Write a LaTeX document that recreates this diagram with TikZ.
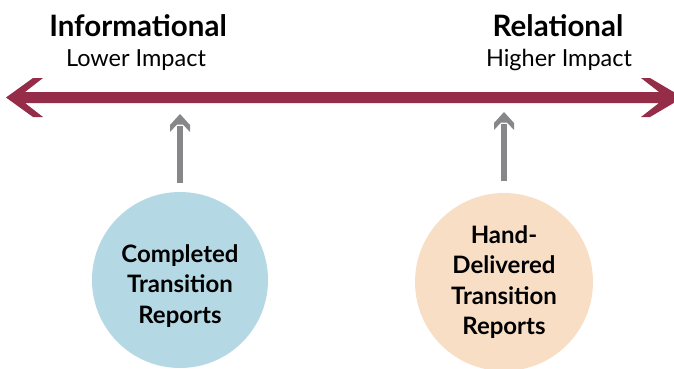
\documentclass[tikz,border=0pt]{standalone}
\usepackage{fontspec}
\setmainfont{Lato}
\definecolor{crimson}{HTML}{952C48}
\definecolor{arrowgray}{HTML}{87878A}
\definecolor{paleblue}{HTML}{B5D9E4}
\definecolor{peach}{HTML}{F9DEC6}
\begin{document}
\begin{tikzpicture}[x=1pt,y=-1pt,
  heading/.style={anchor=base,font=\bfseries\fontsize{29.5}{32}\selectfont},
  subheading/.style={anchor=base,font=\fontsize{23.5}{26}\selectfont},
  bubble/.style={circle,inner sep=0pt,align=center,
    font=\bfseries\fontsize{24}{30.5}\selectfont},
  pointer/.style={draw=arrowgray,line width=6pt}]
\useasboundingbox (0,0) rectangle (674,368);
\clip (0,0) rectangle (674,368);

% double-headed scale arrow
\fill[crimson] (6,97.5) -- (33,78) -- (43,78) -- (25,92) -- (659,92)
  -- (641,78) -- (650,78) -- (683,97.5) -- (650,117) -- (641,117)
  -- (659,103) -- (25,103) -- (43,117) -- (33,117) -- cycle;

% scale end labels
\node[heading] (info) at (138,36) {Informational};
\node[subheading] (low) at (136,66) {Lower Impact};
\node[heading] (rel) at (558,36) {Relational};
\node[subheading] (high) at (559,66) {Higher Impact};

% the two report types
\node[bubble,fill=paleblue,minimum size=176pt] (done) at (180,280) {};
\node[align=center,font=\bfseries\fontsize{24}{30.5}\selectfont] (doneText)
  at (180,286) {Completed\\Transition\\Reports};
\node[bubble,fill=peach,minimum size=178pt] (hand) at (504,282)
  {Hand-\\Delivered\\Transition\\Reports};

% pointers from each report type up to the scale
\coordinate (doneBase) at (180,183);
\coordinate (doneTip) at (180,114);
\coordinate (handBase) at (504,181);
\coordinate (handTip) at (504,112);
\draw[pointer] (doneBase) -- ([yshift=-12pt]doneTip);
\draw[pointer] (handBase) -- ([yshift=-12pt]handTip);
\foreach \t in {doneTip,handTip}{
  \fill[arrowgray] (\t) -- ++(10,11) -- ++(0,7) -- ++(-7,-7.5)
    -- ++(-6,0) -- ++(-7,7.5) -- ++(0,-7) -- cycle;
}
\end{tikzpicture}
\end{document}
